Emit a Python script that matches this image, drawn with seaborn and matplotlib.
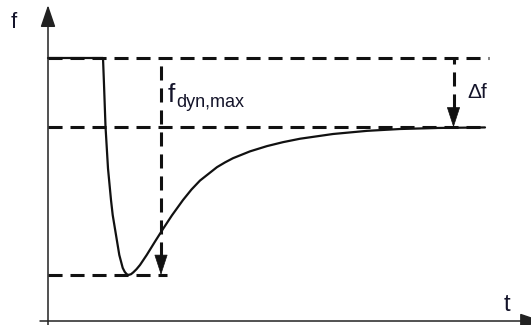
import matplotlib
matplotlib.use("Agg")
import matplotlib.pyplot as plt
import seaborn as sns
import pandas as pd

# Frequency response after a load step (relative units, nominal = 100)
time_s = [0.0, 5.5, 5.6, 5.75, 6.0, 6.3, 6.47, 6.8, 7.13, 7.47, 7.67, 7.87,
          8.05, 8.3, 8.53, 8.85, 9.2, 9.87, 10.7, 11.5, 12.4, 13.5, 14.35,
          15.2, 16.9, 17.7, 18.5, 20.2, 21.9, 23.5, 25.2, 28.5, 31.9, 35.2,
          39.0, 43.7]
freq = [100.0, 100.0, 90.0, 74.0, 58.0, 46.0, 40.3, 32.7, 25.1, 20.2, 18.7,
        17.8, 17.5, 17.8, 18.5, 19.7, 21.3, 25.1, 30.2, 35.0, 40.2, 46.0,
        50.0, 53.4, 58.5, 60.3, 61.9, 64.5, 66.5, 68.0, 69.3, 71.1, 72.3,
        73.0, 73.4, 73.6]

f_nominal = 100.0
f_steady = 73.6
f_min = 17.5
t_dyn_marker = 11.3
t_delta_marker = 40.55
t_bottom_end = 11.9
t_end = 44.0

sns.set_theme(style="white")
plt.rcParams["font.family"] = ["Liberation Sans", "DejaVu Sans"]

ink = "#111111"
text_col = "#14142a"

fig = plt.figure(figsize=(5.31, 3.25), dpi=100)
ax = fig.add_axes([0, 0, 1, 1])
ax.set_xlim(-4.8, 48.3)
ax.set_ylim(-1.52, 122.05)
ax.set_axis_off()

df = pd.DataFrame({"t": time_s, "f": freq})
sns.lineplot(data=df, x="t", y="f", ax=ax, color=ink, lw=1.6, sort=False)

# axes with arrow heads
axis_arrow = dict(arrowstyle="-|>,head_length=13.5,head_width=4.6",
                  mutation_scale=1, lw=1.1, color="#222222",
                  shrinkA=0, shrinkB=0)
ax.annotate("", xy=(0, 120.1), xytext=(0, -2.0), arrowprops=axis_arrow,
            annotation_clip=False)
ax.annotate("", xy=(49.4, 0.0), xytext=(-0.8, 0.0), arrowprops=axis_arrow,
            annotation_clip=False)

# dashed reference levels
dash = (0, (4.6, 2.6))
dash_kw = dict(colors=ink, linewidths=2.2, linestyles=dash)
ax.hlines(f_nominal, 0, t_end + 0.1, **dash_kw)
ax.hlines(f_steady, 0, t_end, **dash_kw)
ax.hlines(f_min, 0, t_bottom_end, **dash_kw)

# dashed measuring arrows
head_len = 19 / 2.63
ax.vlines(t_dyn_marker, f_min + head_len, f_nominal, **dash_kw)
ax.vlines(t_delta_marker, f_steady + head_len, f_nominal, **dash_kw)
head = dict(arrowstyle="-|>,head_length=13.5,head_width=4.4",
            mutation_scale=1, lw=0.5, color=ink, shrinkA=0, shrinkB=0)
ax.annotate("", xy=(t_dyn_marker, f_min), xytext=(t_dyn_marker, f_min + head_len),
            arrowprops=head)
ax.annotate("", xy=(t_delta_marker, f_steady),
            xytext=(t_delta_marker, f_steady + head_len), arrowprops=head)

# labels
ax.text(-3.7, 111.4, "f", fontsize=16, color=text_col, va="baseline")
ax.text(45.6, 3.8, "t", fontsize=17, color=text_col, va="baseline")
ax.text(12.0, 83.3, "f", fontsize=19, color=text_col, va="baseline")
ax.text(12.85, 81.2, "dyn,max", fontsize=13, color=text_col, va="baseline")
ax.text(41.9, 84.8, "\u0394f", fontsize=15, color=text_col, va="baseline")

fig.savefig("out.png", dpi=100)
